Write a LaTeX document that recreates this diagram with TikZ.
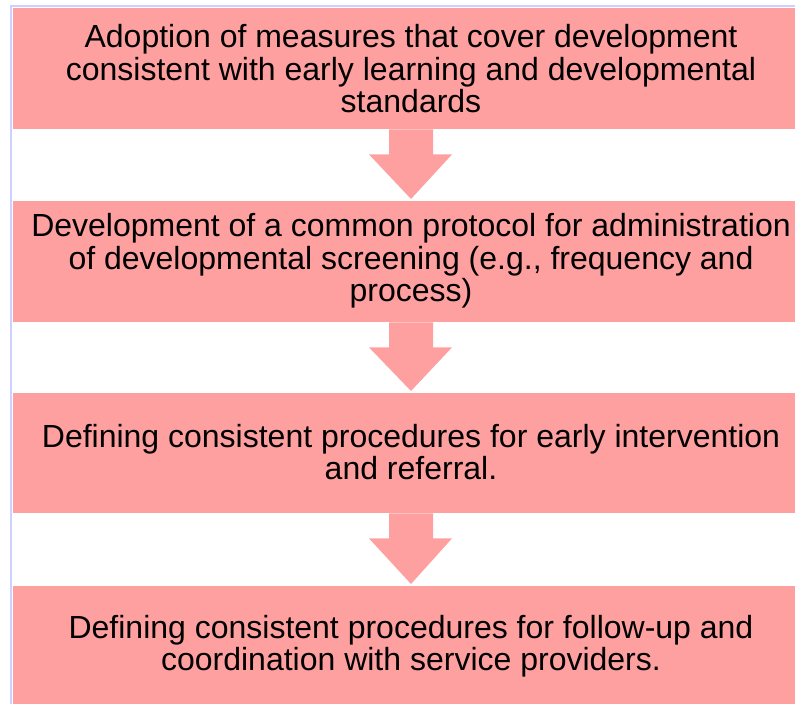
\documentclass[tikz,border=0pt]{standalone}
\usepackage{fontspec}
\setmainfont{Liberation Sans}
\usetikzlibrary{calc}
\definecolor{boxpink}{RGB}{255,160,160}
\definecolor{framelav}{RGB}{208,208,255}
\tikzset{
  stepbox/.style={rectangle, fill=boxpink, draw=none, minimum width=782pt, inner sep=0pt, anchor=north west},
  steptext/.style={align=center, inner sep=0pt, font=\fontsize{32}{32.5}\selectfont},
  flowarrow/.style={fill=boxpink, draw=none}
}
\begin{document}
\begin{tikzpicture}[x=1pt,y=-1pt]
\useasboundingbox (0,0) rectangle (795,704);
% frame lines
\fill[framelav] (10,5) rectangle (795,7);
\fill[framelav] (10,5) rectangle (12,704);
% boxes
\node[stepbox, minimum height=121pt] (b1) at (13,8) {};
\node[stepbox, minimum height=121pt] (b2) at (13,201) {};
\node[stepbox, minimum height=120pt] (b3) at (13,393) {};
\node[stepbox, minimum height=118pt] (b4) at (13,586) {};
% texts
\node[steptext] (t1) at (411,69) {Adoption of measures that cover development\\consistent with early learning and developmental\\standards};
\node[steptext] (t2) at (411,261) {Development of a common protocol for administration\\of developmental screening (e.g., frequency and\\process)};
\node[steptext] (t3) at (411,452) {Defining consistent procedures for early intervention\\and referral.};
\node[steptext] (t4) at (411,646) {Defining consistent procedures for follow-up and\\coordination with service providers.};
% arrows
\foreach \a/\b in {b1/b2, b2/b3, b3/b4}{
  \path (\a.south west) coordinate (s) (\b.north west) coordinate (n);
  \fill[flowarrow] let \p1=(s), \p2=(n) in
    (389,\y1) -- (433,\y1) -- (433,\y1-25) -- (452,\y1-25) -- (411,\y2+2) -- (369,\y1-25) -- (389,\y1-25) -- cycle;
}
\end{tikzpicture}
\end{document}
